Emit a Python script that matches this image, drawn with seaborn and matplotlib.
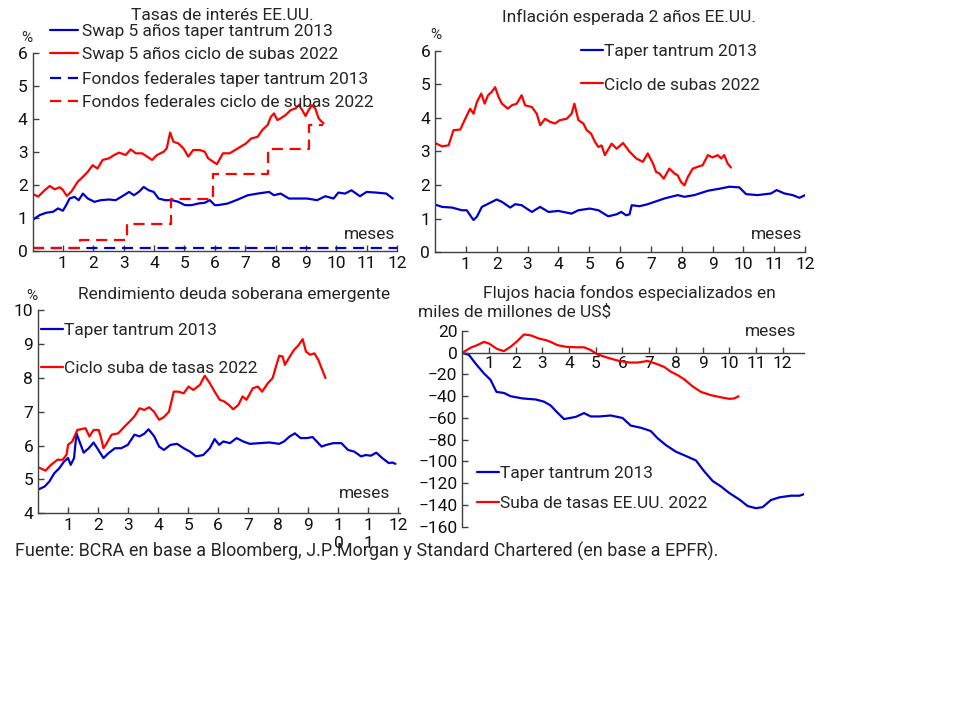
import numpy as np
import pandas as pd
import matplotlib
matplotlib.use("Agg")
import matplotlib.pyplot as plt
import seaborn as sns

# ---------------- data ----------------
# Panel 1: Tasas de interés EE.UU.
swap13_m = [0, 0.24, 0.46, 0.68, 0.84, 1.0, 1.11, 1.22, 1.38, 1.52, 1.66, 1.82, 2.04, 2.25, 2.52, 2.74, 3.01, 3.18,
            3.34, 3.5, 3.66, 3.83, 3.99, 4.15, 4.37, 4.59, 4.8, 5.02, 5.24, 5.46, 5.67, 5.84, 6.0, 6.11, 6.43, 6.76,
            7.09, 7.41, 7.79, 7.95, 8.17, 8.44, 8.71, 9.04, 9.37, 9.64, 9.91, 10.07, 10.29, 10.5, 10.78, 11.0,
            11.32, 11.65, 11.86]
swap13_v = [0.94, 1.09, 1.16, 1.19, 1.29, 1.22, 1.39, 1.59, 1.64, 1.54, 1.74, 1.59, 1.49, 1.54, 1.56, 1.54, 1.69, 1.79,
            1.69, 1.79, 1.94, 1.84, 1.79, 1.59, 1.54, 1.54, 1.49, 1.39, 1.39, 1.44, 1.46, 1.54, 1.39, 1.39, 1.44, 1.56,
            1.69, 1.74, 1.79, 1.69, 1.74, 1.59, 1.59, 1.59, 1.54, 1.66, 1.59, 1.77, 1.74, 1.84, 1.66, 1.79,
            1.77, 1.74, 1.59]
swap22_m = [0, 0.19, 0.41, 0.57, 0.73, 0.9, 1.0, 1.13, 1.28, 1.49, 1.66, 1.82, 1.98, 2.14, 2.31, 2.52, 2.69, 2.85,
            3.07, 3.23, 3.4, 3.61, 3.77, 3.94, 4.1, 4.32, 4.42, 4.53, 4.64, 4.8, 4.97, 5.13, 5.29, 5.51, 5.67, 5.78,
            5.94, 6.07, 6.27, 6.49, 6.76, 7.03, 7.2, 7.41, 7.57, 7.74, 7.85, 7.95, 8.06, 8.17, 8.33, 8.5, 8.66,
            8.77, 8.88, 8.99, 9.09, 9.2, 9.31, 9.42, 9.52, 9.58]
swap22_v = [1.73, 1.65, 1.85, 1.97, 1.87, 1.93, 1.85, 1.67, 1.8, 2.1, 2.25, 2.4, 2.6, 2.5, 2.76, 2.81, 2.91, 2.98,
            2.91, 3.08, 2.96, 2.96, 2.86, 2.76, 2.91, 3.01, 3.11, 3.59, 3.31, 3.26, 3.11, 2.86, 3.06, 3.06, 3.01, 2.81,
            2.71, 2.63, 2.96, 2.96, 3.11, 3.26, 3.41, 3.46, 3.67, 3.82, 4.07, 4.17, 3.97, 4.02, 4.12, 4.27, 4.32,
            4.42, 4.27, 4.09, 4.27, 4.42, 4.32, 4.02, 3.92, 3.87]
ff13_m = [0, 12]
ff13_v = [0.1, 0.1]
ff22_m = [0, 1.55, 3.12, 4.55, 5.93, 7.75, 9.1, 9.55]
ff22_v = [0.08, 0.33, 0.83, 1.58, 2.33, 3.08, 3.83, 3.83]

# Panel 2: Inflación esperada 2 años EE.UU.
inf13_m = [0, 0.23, 0.55, 0.87, 1.03, 1.14, 1.25, 1.36, 1.52, 1.74, 2.0, 2.17, 2.44, 2.6, 2.81, 3.14, 3.41, 3.68,
           4.0, 4.43, 4.65, 5.02, 5.3, 5.62, 5.89, 6.04, 6.2, 6.31, 6.38, 6.63, 6.9, 7.12, 7.44, 7.87, 8.09, 8.41,
           8.85, 9.28, 9.55, 9.87, 10.09, 10.46, 10.9, 11.08, 11.33, 11.6, 11.82, 12.0]
inf13_v = [1.42, 1.35, 1.33, 1.25, 1.25, 1.1, 0.96, 1.06, 1.35, 1.45, 1.57, 1.5, 1.33, 1.43, 1.4, 1.2, 1.35, 1.2,
           1.23, 1.15, 1.25, 1.3, 1.25, 1.07, 1.13, 1.2, 1.1, 1.13, 1.4, 1.37, 1.43, 1.5, 1.6, 1.7, 1.65, 1.7,
           1.83, 1.9, 1.95, 1.93, 1.73, 1.7, 1.75, 1.85, 1.75, 1.7, 1.62, 1.7]
inf22_m = [0, 0.23, 0.44, 0.6, 0.82, 0.98, 1.14, 1.25, 1.36, 1.5, 1.61, 1.72, 1.84, 1.95, 2.06, 2.17, 2.36, 2.49,
           2.65, 2.81, 2.92, 3.14, 3.3, 3.41, 3.57, 3.73, 3.89, 4.05, 4.27, 4.43, 4.52, 4.65, 4.81, 4.92, 5.06,
           5.19, 5.3, 5.4, 5.51, 5.73, 5.89, 6.1, 6.31, 6.53, 6.74, 6.9, 7.07, 7.17, 7.28, 7.42, 7.6, 7.77, 7.87,
           7.98, 8.09, 8.2, 8.36, 8.52, 8.68, 8.85, 9.0, 9.17, 9.28, 9.38, 9.49, 9.6]
inf22_v = [3.25, 3.15, 3.18, 3.63, 3.65, 3.97, 4.27, 4.12, 4.47, 4.72, 4.42, 4.67, 4.77, 4.91, 4.62, 4.42, 4.27, 4.37,
           4.42, 4.67, 4.37, 4.32, 4.12, 3.78, 3.97, 3.88, 3.83, 3.93, 3.97, 4.12, 4.42, 3.93, 3.83, 3.63, 3.53,
           3.28, 3.13, 3.18, 2.89, 3.23, 3.08, 3.25, 2.99, 2.79, 2.69, 2.94, 2.64, 2.39, 2.34, 2.19, 2.49, 2.34, 2.29,
           2.09, 1.99, 2.24, 2.49, 2.54, 2.59, 2.89, 2.82, 2.89, 2.79, 2.89, 2.64, 2.52]

# Panel 3: Rendimiento deuda soberana emergente
em13_m = [0.03, 0.22, 0.38, 0.54, 0.71, 0.87, 1.0, 1.09, 1.2, 1.28, 1.36, 1.52, 1.69, 1.85, 2.01, 2.18, 2.34, 2.56,
          2.77, 2.99, 3.21, 3.38, 3.54, 3.68, 3.87, 4.03, 4.19, 4.41, 4.63, 4.85, 5.06, 5.26, 5.5, 5.72, 5.88,
          6.03, 6.17, 6.39, 6.61, 6.83, 7.05, 7.37, 7.7, 8.03, 8.19, 8.38, 8.55, 8.74, 8.95, 9.14, 9.28, 9.44,
          9.6, 9.83, 10.1, 10.32, 10.53, 10.75, 10.91, 11.08, 11.26, 11.46, 11.68, 11.79, 11.9]
em13_v = [4.71, 4.79, 4.94, 5.18, 5.33, 5.53, 5.63, 5.43, 5.63, 6.36, 6.17, 5.79, 5.92, 6.09, 5.87, 5.63, 5.77, 5.92,
          5.92, 6.02, 6.32, 6.27, 6.35, 6.48, 6.27, 5.97, 5.87, 6.02, 6.05, 5.92, 5.82, 5.68, 5.72, 5.92, 6.19,
          6.02, 6.12, 6.07, 6.22, 6.12, 6.05, 6.07, 6.09, 6.05, 6.12, 6.27, 6.36, 6.22, 6.22, 6.25, 6.12, 5.97,
          6.02, 6.07, 6.07, 5.87, 5.82, 5.68, 5.72, 5.7, 5.79, 5.63, 5.48, 5.5, 5.46]
em22_m = [0.03, 0.25, 0.43, 0.65, 0.82, 0.95, 1.0, 1.14, 1.31, 1.42, 1.58, 1.71, 1.85, 2.02, 2.1, 2.18, 2.29, 2.45,
          2.67, 2.88, 3.05, 3.21, 3.38, 3.54, 3.7, 3.86, 4.03, 4.19, 4.36, 4.52, 4.68, 4.85, 5.01, 5.17, 5.39,
          5.55, 5.72, 5.88, 6.05, 6.2, 6.35, 6.5, 6.67, 6.81, 6.94, 7.15, 7.32, 7.46, 7.65, 7.81, 7.92, 8.03,
          8.14, 8.22, 8.35, 8.52, 8.68, 8.81, 8.92, 9.06, 9.2, 9.33, 9.44, 9.57]
em22_v = [5.35, 5.26, 5.43, 5.58, 5.58, 5.73, 6.02, 6.12, 6.46, 6.48, 6.51, 6.27, 6.46, 6.46, 6.22, 5.92, 6.07, 6.32,
          6.36, 6.56, 6.71, 6.86, 7.1, 7.05, 7.13, 7.0, 6.76, 6.84, 7.0, 7.59, 7.59, 7.54, 7.74, 7.64, 7.79,
          8.06, 7.84, 7.59, 7.35, 7.3, 7.2, 7.07, 7.2, 7.45, 7.35, 7.69, 7.74, 7.59, 7.84, 7.99, 8.33, 8.65,
          8.63, 8.38, 8.58, 8.82, 8.97, 9.14, 8.77, 8.68, 8.72, 8.53, 8.28, 7.99]

# Panel 4: Flujos hacia fondos especializados (miles de millones de US$)
fl13_m = [0, 0.25, 0.5, 0.81, 1.06, 1.28, 1.56, 1.81, 2.25, 2.75, 3.06, 3.31, 3.56, 3.81, 4.25, 4.56, 4.81, 5.13,
          5.56, 6.0, 6.31, 6.69, 7.06, 7.31, 7.63, 8.0, 8.38, 8.75, 9.06, 9.38, 9.69, 10.0, 10.38, 10.69, 11.0,
          11.25, 11.56, 11.88, 12.31, 12.63, 12.81]
fl13_v = [0, -2, -10, -19, -25, -36, -37, -40, -42, -43, -45, -48.5, -55, -61, -59, -55.5, -58.6, -58.6,
          -57.7, -60, -67, -69, -72, -78.5, -85, -91, -95, -99, -109, -118, -123, -129, -135, -141, -143,
          -142, -135.5, -133, -131.5, -131.5, -130]
fl22_m = [0, 0.31, 0.56, 0.81, 1.0, 1.31, 1.56, 1.81, 2.06, 2.31, 2.56, 2.88, 3.13, 3.31, 3.56, 3.88, 4.25, 4.56,
          4.81, 5.06, 5.5, 5.88, 6.25, 6.56, 6.94, 7.25, 7.56, 7.81, 8.06, 8.31, 8.63, 8.94, 9.31, 9.69, 10.0,
          10.19, 10.35]
fl22_v = [0, 4.6, 7, 10, 8.5, 3.4, 1.5, 5.5, 10.7, 16.8, 16, 13, 11.6, 10, 7, 5.5, 5, 5,
          2.5, -1.5, -5, -7.6, -9, -9, -7.6, -10, -13, -17.4, -20.5, -24.4, -31, -36, -39, -41, -42.4,
          -42, -40]

month_ticks = [1, 2, 3, 4, 5, 6, 7, 8, 9, 10, 11, 12]
month_labels = ["1", "2", "3", "4", "5", "6", "7", "8", "9", "10", "11", "12"]
month_labels_p3 = ["1", "2", "3", "4", "5", "6", "7", "8", "9", "1\n0", "1\n1", "12"]

# ---------------- style ----------------
sns.set_theme(style="ticks")
plt.rcParams["font.family"] = ["Roboto", "DejaVu Sans"]
plt.rcParams["font.size"] = 12
BLUE = "#0000CC"
RED = "#FF0000"
AXC = "#404040"
W, H = 960, 720

fig = plt.figure(figsize=(9.6, 7.2), dpi=100)
fig.patch.set_facecolor("white")


def add_ax(l, r, t, b):
    return fig.add_axes([l / W, 1 - b / H, (r - l) / W, (b - t) / H])


def ftext(x, y, s, **kw):
    fig.text(x / W, 1 - y / H, s, **kw)


def style_ax(ax):
    ax.set_facecolor("white")
    for s in ["top", "right"]:
        ax.spines[s].set_visible(False)
    for s in ["left", "bottom"]:
        ax.spines[s].set_color(AXC)
        ax.spines[s].set_linewidth(1.0)
    ax.tick_params(direction="in", length=4, width=1, color=AXC, labelsize=12.5, labelcolor="#111111")
    ax.set_xlabel("")
    ax.set_ylabel("")


def line(ax, m, v, color, label, **kw):
    sns.lineplot(x=m, y=v, ax=ax, color=color, label=label, estimator=None, sort=False,
                 linewidth=1.6, **kw)


# ---- Panel 1 ----
ax1 = add_ax(32.5, 397, 53, 251)
line(ax1, swap13_m, swap13_v, BLUE, "Swap 5 años taper tantrum 2013")
line(ax1, swap22_m, swap22_v, RED, "Swap 5 años ciclo de subas 2022")
line(ax1, ff13_m, ff13_v, BLUE, "Fondos federales taper tantrum 2013", dashes=(5, 3))
line(ax1, ff22_m, ff22_v, RED, "Fondos federales ciclo de subas 2022", dashes=(5, 3), drawstyle="steps-post")
ax1.set_xlim(0, 12)
ax1.set_ylim(0, 6)
ax1.set_yticks([0, 1, 2, 3, 4, 5, 6])
ax1.set_xticks(month_ticks)
ax1.set_xticklabels(month_labels)
style_ax(ax1)
ax1.legend(loc="upper left", bbox_to_anchor=(50 / W, 1 - 24 / H), bbox_transform=fig.transFigure,
           frameon=False, fontsize=12.5, handlelength=1.6, handletextpad=0.25, labelspacing=0.47,
           borderpad=0, borderaxespad=0)
ftext(222, 16, "Tasas de interés EE.UU.", ha="center", va="center", fontsize=12.5)
ftext(27, 38, "%", ha="center", va="center", fontsize=11)
ftext(370, 235, "meses", ha="center", va="center", fontsize=12.5)

# ---- Panel 2 ----
ax2 = add_ax(435, 805, 50.5, 252.3)
line(ax2, inf13_m, inf13_v, BLUE, "Taper tantrum 2013")
line(ax2, inf22_m, inf22_v, RED, "Ciclo de subas 2022")
ax2.set_xlim(0, 12)
ax2.set_ylim(0, 6)
ax2.set_yticks([0, 1, 2, 3, 4, 5, 6])
ax2.set_xticks(month_ticks)
ax2.set_xticklabels(month_labels)
style_ax(ax2)
ax2.legend(loc="upper left", bbox_to_anchor=(581 / W, 1 - 44 / H), bbox_transform=fig.transFigure,
           frameon=False, fontsize=12.5, handlelength=1.25, handletextpad=0.1, labelspacing=1.05,
           borderpad=0, borderaxespad=0)
ftext(629, 17, "Inflación esperada 2 años EE.UU.", ha="center", va="center", fontsize=12.5)
ftext(436, 35, "%", ha="center", va="center", fontsize=11)
ftext(777, 235, "meses", ha="center", va="center", fontsize=12.5)

# ---- Panel 3 ----
ax3 = add_ax(38, 400, 310, 513.3)
line(ax3, em13_m, em13_v, BLUE, "Taper tantrum 2013")
line(ax3, em22_m, em22_v, RED, "Ciclo suba de tasas 2022")
ax3.set_xlim(0, 12.05)
ax3.set_ylim(4, 10)
ax3.set_yticks([4, 5, 6, 7, 8, 9, 10])
ax3.set_xticks(month_ticks)
ax3.set_xticklabels(month_labels_p3, linespacing=1.25)
style_ax(ax3)
ax3.legend(loc="upper left", bbox_to_anchor=(41 / W, 1 - 323 / H), bbox_transform=fig.transFigure,
           frameon=False, fontsize=12.5, handlelength=1.25, handletextpad=0.1, labelspacing=1.3,
           borderpad=0, borderaxespad=0)
ftext(234, 294, "Rendimiento deuda soberana emergente", ha="center", va="center", fontsize=12.5)
ftext(32, 296, "%", ha="center", va="center", fontsize=11)
ftext(365, 494, "meses", ha="center", va="center", fontsize=12.5)

# ---- Panel 4 ----
ax4 = add_ax(462.3, 804, 331, 526.7)
line(ax4, fl13_m, fl13_v, BLUE, "Taper tantrum 2013")
line(ax4, fl22_m, fl22_v, RED, "Suba de tasas EE.UU. 2022")
ax4.set_xlim(0, 12.8)
ax4.set_ylim(-160, 20)
ax4.set_yticks(list(range(-160, 21, 20)))
ax4.set_xticks(month_ticks)
ax4.set_xticklabels(month_labels)
style_ax(ax4)
ax4.spines["bottom"].set_position(("data", 0))
ax4.tick_params(axis="x", pad=2)
ax4.legend(loc="upper left", bbox_to_anchor=(477 / W, 1 - 466 / H), bbox_transform=fig.transFigure,
           frameon=False, fontsize=12.5, handlelength=1.25, handletextpad=0.1, labelspacing=0.85,
           borderpad=0, borderaxespad=0)
ftext(629, 293, "Flujos hacia fondos especializados en", ha="center", va="center", fontsize=12.5)
ftext(418, 312, "miles de millones de US$", ha="left", va="center", fontsize=12.5)
ftext(771, 332, "meses", ha="center", va="center", fontsize=12.5)

# footnote
ftext(15, 551, "Fuente: BCRA en base a Bloomberg, J.P.Morgan y Standard Chartered (en base a EPFR).",
      ha="left", va="center", fontsize=13)

fig.savefig("out.png", dpi=100, facecolor="white")
